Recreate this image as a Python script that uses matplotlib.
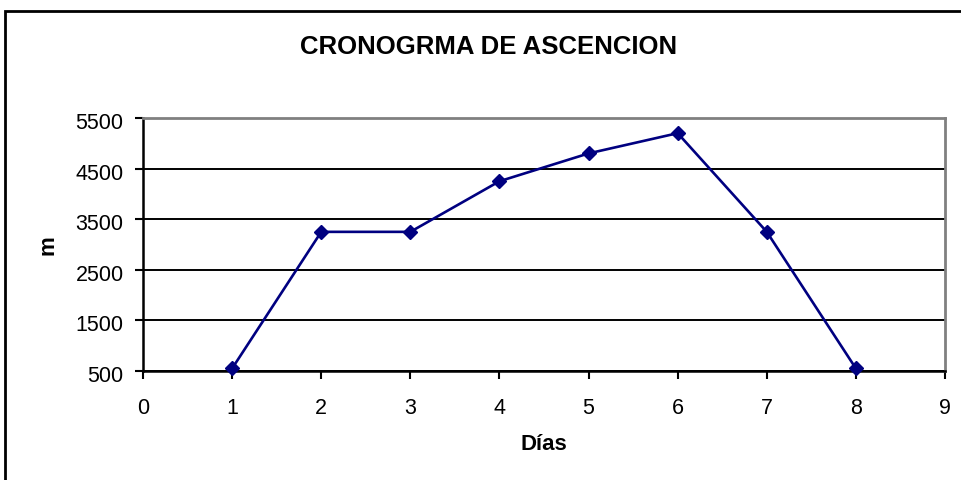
import matplotlib.pyplot as plt
import matplotlib.patches as patches
import matplotlib.transforms as mtransforms

# data
dias = [1, 2, 3, 4, 5, 6, 7, 8]
altura = [550, 3250, 3250, 4250, 4800, 5200, 3250, 550]

x_ticks = [0, 1, 2, 3, 4, 5, 6, 7, 8, 9]
y_ticks = [500, 1500, 2500, 3500, 4500, 5500]

plt.rcParams['font.family'] = ['Liberation Sans', 'DejaVu Sans']

W, H = 962, 481
fig = plt.figure(figsize=(W / 100, H / 100), dpi=100)

# outer chart frame (cut off at right and bottom)
frame = patches.Rectangle((5 / W, -0.1), 2.0, (H - 12) / H + 0.1,
                          transform=fig.transFigure, fill=False,
                          edgecolor='black', linewidth=2)
fig.patches.append(frame)

left, right, top, bottom = 143, 945, 119, 372
ax = fig.add_axes([left / W, (H - bottom) / H, (right - left) / W, (bottom - top) / H])

ax.plot(dias, altura, color='#000080', linewidth=1.9, marker='D', markersize=7,
        clip_on=False, zorder=3)

ax.set_xlim(0, 9)
ax.set_ylim(500, 5500)
ax.set_xticks(x_ticks)
ax.set_yticks(y_ticks)
ax.tick_params(axis='both', direction='out', length=6, width=1.5, labelsize=15.5,
               colors='black')
ax.tick_params(axis='x', pad=13)
ax.tick_params(axis='y', pad=8)

# excel draws the value labels a little below their ticks
shift = mtransforms.ScaledTranslation(0, -2 / 100, fig.dpi_scale_trans)
for lab in ax.get_yticklabels():
    lab.set_transform(lab.get_transform() + shift)

for yv in y_ticks[:-1]:
    ax.axhline(yv, color='black', linewidth=1.4, zorder=1)

ax.spines['left'].set_color('black')
ax.spines['left'].set_linewidth(1.8)
ax.spines['bottom'].set_color('black')
ax.spines['bottom'].set_linewidth(1.8)
ax.spines['top'].set_color('#808080')
ax.spines['top'].set_linewidth(2)
ax.spines['right'].set_color('#808080')
ax.spines['right'].set_linewidth(2)

ax.set_xlabel('Días', fontsize=16, fontweight='bold')
ax.xaxis.set_label_coords(0.5, (bottom - 434) / (bottom - top))
ax.set_ylabel('m', fontsize=16, fontweight='bold')
ax.yaxis.set_label_coords((58 - left) / (right - left), 0.5)

fig.text(489 / W, (H - 47) / H, 'CRONOGRMA DE ASCENCION', ha='center', va='center',
         fontsize=18.5, fontweight='bold')

fig.savefig('out.png', dpi=100)
